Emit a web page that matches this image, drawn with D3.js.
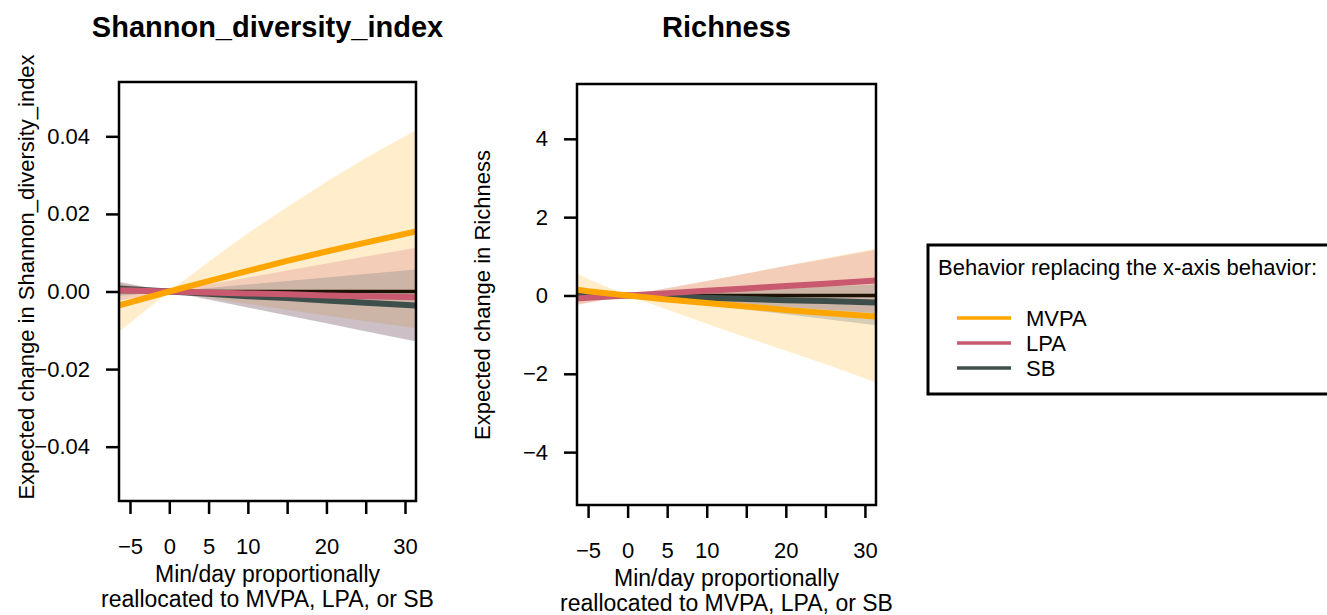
<!DOCTYPE html>
<html lang="en">
<head>
<meta charset="UTF-8">
<title>Reallocation curves</title>
<style>
    body { margin:0; background:#fff; }
    text { font-family: "Liberation Sans", Arial, Helvetica, sans-serif; fill:#000; }
</style>
</head>
<body>
<script src="https://cdn.jsdelivr.net/npm/d3@7/dist/d3.min.js"></script>
<script>
var minutes = [-6.4, -5, 0, 5, 10, 15, 20, 25, 31.4];
var xTicks = [-5, 0, 5, 10, 15, 20, 25, 30];
var xLabeled = [-5, 0, 5, 10, 20, 30];
var behaviors = ["MVPA", "LPA", "SB"];

// Shannon_diversity_index
var shannonMVPA   = [-0.0036, -0.0028, 0, 0.0027, 0.0053, 0.0079, 0.0103, 0.0126, 0.0155];
var shannonMVPAlo = [-0.0104, -0.0081, 0, -0.0016, -0.0032, -0.0047, -0.0062, -0.0077, -0.0095];
var shannonMVPAhi = [0.0022, 0.0017, 0, 0.0077, 0.0150, 0.0218, 0.0283, 0.0344, 0.0416];
var shannonLPA    = [0.0003, 0.00024, 0, -0.00024, -0.0005, -0.0007, -0.001, -0.0012, -0.0015];
var shannonLPAlo  = [-0.0023, -0.0018, 0, -0.0020, -0.0041, -0.0061, -0.0082, -0.0102, -0.0128];
var shannonLPAhi  = [0.0026, 0.0020, 0, 0.0018, 0.0036, 0.0054, 0.0072, 0.0090, 0.0113];
var shannonSB     = [0.0008, 0.0006, 0, -0.0006, -0.0012, -0.0017, -0.0023, -0.0029, -0.0036];
var shannonSBlo   = [-0.0011, -0.0009, 0, -0.0021, -0.0041, -0.0062, -0.0082, -0.0103, -0.0129];
var shannonSBhi   = [0.0024, 0.0019, 0, 0.0009, 0.0018, 0.0027, 0.0036, 0.0045, 0.0057];
var shannonTicks  = [-0.04, -0.02, 0, 0.02, 0.04];

// Richness
var richMVPA   = [0.15, 0.11, 0, -0.10, -0.19, -0.28, -0.37, -0.45, -0.54];
var richMVPAlo = [-0.23, -0.18, 0, -0.36, -0.72, -1.07, -1.41, -1.75, -2.22];
var richMVPAhi = [0.56, 0.42, 0, 0.18, 0.37, 0.56, 0.76, 0.95, 1.2];
var richLPA    = [-0.08, -0.06, 0, 0.06, 0.12, 0.18, 0.24, 0.30, 0.38];
var richLPAlo  = [-0.24, -0.19, 0, -0.07, -0.14, -0.21, -0.29, -0.36, -0.45];
var richLPAhi  = [0.09, 0.07, 0, 0.19, 0.37, 0.56, 0.75, 0.93, 1.17];
var richSB     = [0.03, 0.03, 0, -0.03, -0.06, -0.09, -0.12, -0.14, -0.18];
var richSBlo   = [-0.06, -0.045, 0, -0.12, -0.24, -0.36, -0.48, -0.60, -0.76];
var richSBhi   = [0.15, 0.12, 0, 0.045, 0.09, 0.13, 0.18, 0.22, 0.28];
var richTicks  = [-4, -2, 0, 2, 4];

var lineColor = {MVPA: "#FFA500", LPA: "#C8596E", SB: "#3E4F4B"};
var bandColor = {MVPA: "rgba(255,165,0,0.2)", LPA: "rgba(200,80,110,0.2)", SB: "rgba(47,79,90,0.2)"};

var w = 1327, h = 615;
var svg = d3.select("body").append("svg")
    .attr("width", w)
    .attr("height", h);

function drawPanel(p) {
    var x = d3.scaleLinear().domain([-6.4, 31.4]).range([p.left, p.right]);
    var y = d3.scaleLinear().domain(p.yDomain).range([p.bottom, p.top]);
    var g = svg.append("g");

    var clipId = "clip" + p.id;
    g.append("clipPath").attr("id", clipId)
        .append("rect")
        .attr("x", p.left).attr("y", p.top)
        .attr("width", p.right - p.left).attr("height", p.bottom - p.top);
    var plot = g.append("g").attr("clip-path", "url(#" + clipId + ")");

    // confidence bands
    behaviors.forEach(function (b) {
        var area = d3.area()
            .x(function (d, i) { return x(minutes[i]); })
            .y0(function (d, i) { return y(p.lo[b][i]); })
            .y1(function (d, i) { return y(p.hi[b][i]); });
        plot.append("path").datum(minutes)
            .attr("d", area)
            .attr("fill", bandColor[b]);
    });

    // zero reference
    plot.append("line")
        .attr("x1", p.left).attr("x2", p.right)
        .attr("y1", y(0)).attr("y2", y(0))
        .attr("stroke", "#1c1206").attr("stroke-width", 3.5);

    ["SB", "LPA", "MVPA"].forEach(function (b) {
        var line = d3.line()
            .x(function (d, i) { return x(minutes[i]); })
            .y(function (d, i) { return y(p.est[b][i]); });
        plot.append("path").datum(minutes)
            .attr("d", line)
            .attr("fill", "none")
            .attr("stroke", lineColor[b])
            .attr("stroke-width", 6);
    });

    // box
    g.append("rect")
        .attr("x", p.left).attr("y", p.top)
        .attr("width", p.right - p.left).attr("height", p.bottom - p.top)
        .attr("fill", "none").attr("stroke", "#000").attr("stroke-width", 2.5);

    var xAxis = d3.axisBottom(x).tickValues(xTicks).tickSize(13).tickPadding(24)
        .tickFormat(function (d) { return xLabeled.indexOf(d) >= 0 ? d3.format("d")(d) : ""; });
    var gx = g.append("g").attr("transform", "translate(0," + p.bottom + ")").call(xAxis);
    gx.select(".domain").remove();

    var yAxis = d3.axisLeft(y).tickValues(p.yTicks).tickSize(13).tickPadding(16)
        .tickFormat(p.yFmt);
    var gy = g.append("g").attr("transform", "translate(" + p.left + ",0)").call(yAxis);
    gy.select(".domain").remove();

    [gx, gy].forEach(function (a) {
        a.selectAll(".tick line").attr("stroke", "#000").attr("stroke-width", 2.5);
        a.selectAll("text").attr("font-size", "22px")
            .attr("font-family", "'Liberation Sans', Arial, sans-serif").attr("fill", "#000");
    });

    var cx = (p.left + p.right) / 2;
    g.append("text")
        .attr("x", cx).attr("y", 37)
        .attr("text-anchor", "middle")
        .attr("font-size", "29px").attr("font-weight", "bold")
        .text(p.title);

    g.append("text").attr("x", cx).attr("y", p.bottom + 81)
        .attr("text-anchor", "middle").attr("font-size", "23px")
        .text("Min/day proportionally");
    g.append("text").attr("x", cx).attr("y", p.bottom + 106)
        .attr("text-anchor", "middle").attr("font-size", "23px")
        .text("reallocated to MVPA, LPA, or SB");

    g.append("text")
        .attr("transform", "translate(" + p.ylabX + "," + p.ylabY + ") rotate(-90)")
        .attr("text-anchor", "middle").attr("font-size", "22px")
        .text(p.ylab);
}

drawPanel({
    id: "shannon", left: 119, right: 416, top: 82, bottom: 501,
    yDomain: [-0.054, 0.054], yTicks: shannonTicks, yFmt: d3.format(".2f"),
    title: "Shannon_diversity_index",
    ylab: "Expected change in Shannon_diversity_index", ylabX: 34, ylabY: 277,
    est: {MVPA: shannonMVPA, LPA: shannonLPA, SB: shannonSB},
    lo: {MVPA: shannonMVPAlo, LPA: shannonLPAlo, SB: shannonSBlo},
    hi: {MVPA: shannonMVPAhi, LPA: shannonLPAhi, SB: shannonSBhi}
});

drawPanel({
    id: "rich", left: 577, right: 876, top: 84, bottom: 505,
    yDomain: [-5.35, 5.4], yTicks: richTicks, yFmt: d3.format("d"),
    title: "Richness",
    ylab: "Expected change in Richness", ylabX: 490, ylabY: 295,
    est: {MVPA: richMVPA, LPA: richLPA, SB: richSB},
    lo: {MVPA: richMVPAlo, LPA: richLPAlo, SB: richSBlo},
    hi: {MVPA: richMVPAhi, LPA: richLPAhi, SB: richSBhi}
});

// legend
var legend = svg.append("g");
legend.append("rect")
    .attr("x", 928).attr("y", 245)
    .attr("width", 420).attr("height", 149)
    .attr("fill", "#fff").attr("stroke", "#000").attr("stroke-width", 3);
legend.append("text")
    .attr("x", 938).attr("y", 275)
    .attr("font-size", "22px")
    .text("Behavior replacing the x-axis behavior:");
var legendY = d3.scalePoint().domain(behaviors).range([318, 368]);
legend.selectAll("line.key").data(behaviors).enter().append("line")
    .attr("class", "key")
    .attr("x1", 957).attr("x2", 1011)
    .attr("y1", function (d) { return legendY(d); })
    .attr("y2", function (d) { return legendY(d); })
    .attr("stroke", function (d) { return lineColor[d]; })
    .attr("stroke-width", 3.5);
legend.selectAll("text.key").data(behaviors).enter().append("text")
    .attr("class", "key")
    .attr("x", 1026)
    .attr("y", function (d) { return legendY(d) + 8; })
    .attr("font-size", "22px")
    .text(function (d) { return d; });
</script>
</body>
</html>
